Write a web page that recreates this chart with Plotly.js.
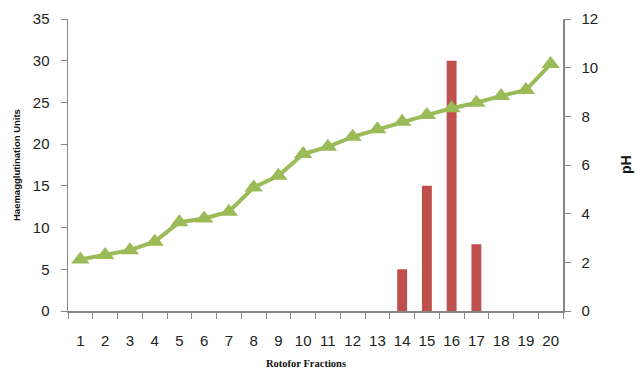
<!DOCTYPE html>
<html>
<head>
<meta charset="utf-8">
<script src="https://cdn.plot.ly/plotly-3.0.1.min.js"></script>
<style>html,body{margin:0;padding:0;background:#fff}#chart{width:636px;height:368px}</style>
</head>
<body>
<div id="chart"></div>
<script>
var fractions = ["1","2","3","4","5","6","7","8","9","10","11","12","13","14","15","16","17","18","19","20"];
var haUnits = [0,0,0,0,0,0,0,0,0,0,0,0,0,5,15,30,8,0,0,0];
var phValues = [2.12,2.3,2.5,2.85,3.65,3.8,4.08,5.08,5.56,6.45,6.75,7.16,7.47,7.78,8.05,8.33,8.56,8.84,9.08,10.15];
var leftTicks = [0,5,10,15,20,25,30,35];
var rightTicks = [0,2,4,6,8,10,12];

var tickFont = {family: "Liberation Sans", size: 15, color: "#222"};
var axisColor = "#868686";

var traces = [
  {type: "bar", x: fractions, y: haUnits, yaxis: "y", width: 0.4,
   marker: {color: "#C0504D", line: {width: 0}}, hoverinfo: "none"},
  {type: "scatter", mode: "lines+markers", x: fractions, y: phValues, yaxis: "y2",
   line: {color: "#9BBB59", width: 4},
   marker: {symbol: "triangle-up", size: 16, color: "#9BBB59"}, hoverinfo: "none"}
];

var layout = {
  width: 636, height: 368,
  margin: {l: 68, r: 73, t: 19, b: 57},
  paper_bgcolor: "#fff", plot_bgcolor: "#fff",
  showlegend: false,
  xaxis: {type: "category", range: [-0.5, 19.5], tickson: "boundaries", ticks: "outside", ticklen: 6, tickcolor: axisColor,
          showline: true, linecolor: axisColor, linewidth: 1.5, showgrid: false, zeroline: false,
          tickfont: tickFont, tickangle: 0, ticklabelstandoff: 15},
  yaxis: {range: [0, 35], tickvals: leftTicks, ticks: "outside", ticklen: 6, tickcolor: axisColor,
          showline: true, linecolor: axisColor, linewidth: 1.5, showgrid: false, zeroline: false,
          tickfont: tickFont, ticklabelstandoff: 8},
  yaxis2: {range: [0, 12], tickvals: rightTicks, overlaying: "y", side: "right", ticks: "outside", ticklen: 6,
           tickcolor: axisColor, showline: true, linecolor: axisColor, linewidth: 1.5, showgrid: false,
           zeroline: false, tickfont: tickFont, ticklabelstandoff: 8},
  annotations: [
    {text: "<b>Haemagglutination Units</b>", xref: "paper", yref: "paper", x: 0, y: 0.5, xshift: -52,
     xanchor: "center", yanchor: "middle", textangle: -90, showarrow: false,
     font: {family: "Liberation Sans", size: 9.5, color: "#111"}},
    {text: "<b>pH</b>", xref: "paper", yref: "paper", x: 1.0, y: 0.5, xshift: 63,
     xanchor: "center", yanchor: "middle", textangle: -90, showarrow: false,
     font: {family: "Liberation Sans", size: 14, color: "#111"}},
    {text: "<b>Rotofor Fractions</b>", xref: "paper", yref: "paper", x: 0.48, y: 0, yshift: -52,
     xanchor: "center", yanchor: "middle", showarrow: false,
     font: {family: "Liberation Serif", size: 10.5, color: "#111"}}
  ]
};

Plotly.newPlot("chart", traces, layout, {staticPlot: true, displayModeBar: false});
</script>
</body>
</html>
